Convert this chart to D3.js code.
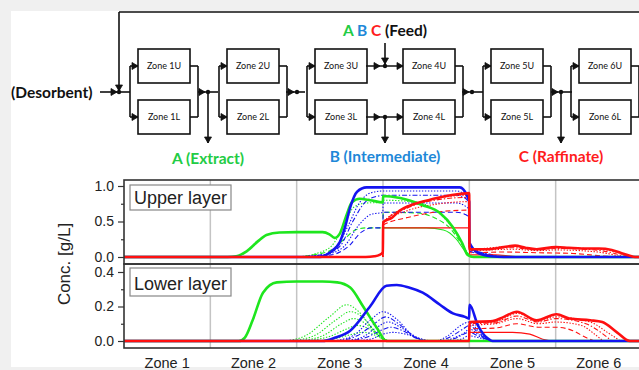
<!DOCTYPE html>
<html>
<head>
<meta charset="utf-8">
<script src="https://cdn.jsdelivr.net/npm/d3@7"></script>
<style>
  html, body { margin: 0; padding: 0; background: #f0f0f0; }
  svg { display: block; }
  .axis text { font-family: "Liberation Sans", Arial, sans-serif; font-size: 14px; fill: #222; }
  .axis line { stroke: #333; stroke-width: 1.2; }
  .axis path { display: none; }
</style>
</head>
<body>
<div class="chart"></div>
<script>
/* Global Constants
============================================= */
const SVG_WIDTH = 639;
const SVG_HEIGHT = 370;

const GREEN = "#1ee61e";
const BLUE = "#1414f0";
const RED = "#ff1010";

const ZONES = ["Zone 1", "Zone 2", "Zone 3", "Zone 4", "Zone 5", "Zone 6"];
const UNITS_U = ["Zone 1U", "Zone 2U", "Zone 3U", "Zone 4U", "Zone 5U", "Zone 6U"];
const UNITS_L = ["Zone 1L", "Zone 2L", "Zone 3L", "Zone 4L", "Zone 5L", "Zone 6L"];
const UPPER_TICKS = [0, 0.5, 1.0];
const UPPER_MINOR = [0.25, 0.75];
const LOWER_TICKS = [0, 0.2, 0.4];
const LOWER_MINOR = [0.1, 0.3];

/* Data: [position in zones, conc g/L]
============================================= */
// upper layer
const upGreenThick = [[0,0],[1.2,0],[1.3,0.01],[1.42,0.08],[1.55,0.22],[1.65,0.31],[1.8,0.345],[2.0,0.35],[2.3,0.35],[2.38,0.32],[2.44,0.27],[2.5,0.33],[2.58,0.6],[2.64,0.77],[2.73,0.82],[2.85,0.8],[2.998,0.77],[3.002,0.86],[3.2,0.83],[3.46,0.73],[3.66,0.62],[3.81,0.42],[3.92,0.19],[3.98,0.03],[4.05,0],[6,0]];
const upGreenThin = [[3.002,0.41],[3.5,0.41],[3.7,0.38],[3.85,0.25],[3.95,0.08],[4.0,0.01],[4.05,0]];
const upGreenDash = [[2.0,0],[2.2,0.03],[2.4,0.1],[2.55,0.25],[2.68,0.38],[2.8,0.41],[2.998,0.41],[3.002,0.63],[3.4,0.62],[3.6,0.55],[3.78,0.4],[3.9,0.2],[3.998,0.03],[4.05,0]];
const upGreenDot = [[2.0,0],[2.2,0.04],[2.4,0.15],[2.55,0.45],[2.66,0.7],[2.8,0.76],[2.998,0.77],[3.002,0.8],[3.4,0.77],[3.6,0.66],[3.78,0.45],[3.9,0.22],[3.998,0.03],[4.05,0]];

const upBlueThick = [[0,0],[2.27,0],[2.38,0.06],[2.5,0.21],[2.56,0.42],[2.62,0.7],[2.7,0.92],[2.81,0.98],[3.89,0.98],[3.97,0.87],[3.998,0.78],[4.002,0.2],[4.1,0.06],[4.25,0.01],[4.4,0],[6,0]];
const upBlueDot1 = [[2.0,0],[2.3,0.03],[2.45,0.12],[2.6,0.45],[2.72,0.75],[2.85,0.9],[3.0,0.93],[3.85,0.93],[3.95,0.88],[3.998,0.8],[4.002,0.12],[4.15,0.05],[4.3,0.01],[4.45,0]];
const upBlueDashDot = [[2.0,0],[2.3,0.03],[2.5,0.15],[2.65,0.5],[2.8,0.78],[2.95,0.86],[3.0,0.87],[3.85,0.87],[3.95,0.83],[3.998,0.75],[4.002,0.12],[4.2,0.05],[4.35,0.01],[4.5,0]];
const upBlueDot2 = [[2.0,0],[2.35,0.04],[2.55,0.15],[2.72,0.45],[2.86,0.6],[2.998,0.63],[3.002,0.76],[3.85,0.76],[3.95,0.72],[3.998,0.66],[4.002,0.1],[4.2,0.04],[4.4,0]];
const upBlueDash = [[2.0,0],[2.4,0.03],[2.6,0.15],[2.75,0.35],[2.87,0.41],[2.998,0.41],[3.002,0.63],[3.85,0.63],[3.95,0.6],[3.998,0.55],[4.002,0.08],[4.2,0.03],[4.4,0]];

const upRedThick = [[0,0],[2.8,0],[2.9,0.01],[2.96,0.03],[2.998,0.07],[3.002,0.49],[3.1,0.55],[3.19,0.65],[3.3,0.72],[3.46,0.78],[3.69,0.85],[3.9,0.89],[3.998,0.9],[4.002,0.11],[4.2,0.11],[4.4,0.14],[4.53,0.16],[4.65,0.13],[4.78,0.11],[5.0,0.14],[5.15,0.13],[5.3,0.12],[5.5,0.12],[5.65,0.1],[5.75,0.06],[5.85,0.02],[5.92,0],[6,0]];
const upRedThin = [[2.998,0],[3.002,0.41],[3.998,0.41],[4.002,0.03],[4.3,0.03],[4.5,0.01],[4.7,0]];
const upRedDash = [[2.998,0],[3.002,0.45],[3.3,0.56],[3.6,0.63],[3.998,0.66],[4.002,0.06],[4.4,0.07],[4.8,0.06],[5.2,0.05],[5.4,0.03],[5.6,0.01],[5.8,0]];
const upRedDot1 = [[2.998,0],[3.002,0.47],[3.3,0.66],[3.6,0.74],[3.998,0.78],[4.002,0.09],[4.5,0.11],[4.8,0.09],[5.0,0.1],[5.4,0.08],[5.6,0.05],[5.75,0.01],[5.85,0]];
const upRedDashDot = [[2.998,0],[3.002,0.48],[3.3,0.7],[3.6,0.8],[3.998,0.84],[4.002,0.1],[4.5,0.13],[4.8,0.1],[5.0,0.12],[5.45,0.1],[5.65,0.06],[5.8,0.01],[5.9,0]];
const upRedDot2 = [[2.998,0],[3.002,0.485],[3.3,0.71],[3.6,0.82],[3.998,0.87],[4.002,0.11],[4.5,0.15],[4.8,0.11],[5.0,0.13],[5.5,0.11],[5.7,0.07],[5.85,0.01],[5.92,0]];

// lower layer
const lowGreenThick = [[0,0],[1.33,0],[1.4,0.02],[1.49,0.12],[1.61,0.28],[1.77,0.34],[2.0,0.345],[2.3,0.345],[2.47,0.34],[2.62,0.31],[2.77,0.2],[2.93,0.075],[3.04,0],[6,0]];
const lowGreenDot1 = [[1.85,0],[2.1,0.03],[2.38,0.14],[2.58,0.21],[2.72,0.17],[2.88,0.07],[3.0,0.01],[3.05,0]];
const lowGreenDot2 = [[1.9,0],[2.2,0.03],[2.45,0.12],[2.62,0.17],[2.76,0.14],[2.9,0.06],[3.02,0.01],[3.06,0]];
const lowGreenDot3 = [[2.0,0],[2.3,0.03],[2.52,0.1],[2.66,0.13],[2.8,0.1],[2.93,0.04],[3.05,0]];
const lowGreenDot4 = [[2.1,0],[2.4,0.03],[2.58,0.07],[2.7,0.09],[2.84,0.07],[2.96,0.03],[3.06,0]];
const lowGreenDot5 = [[2.25,0],[2.5,0.02],[2.65,0.04],[2.76,0.05],[2.88,0.04],[3.0,0.01],[3.08,0]];

const lowBlueThick = [[0,0],[2.3,0],[2.45,0.02],[2.62,0.06],[2.85,0.2],[3.04,0.32],[3.16,0.325],[3.3,0.31],[3.46,0.28],[3.66,0.21],[3.81,0.16],[3.95,0.14],[3.998,0.13],[4.002,0.21],[4.1,0.09],[4.2,0.02],[4.27,0],[6,0]];
const lowBlueDot1 = [[2.4,0],[2.65,0.03],[2.85,0.12],[3.0,0.17],[3.15,0.13],[3.35,0.03],[3.5,0],[3.6,0],[3.75,0.03],[3.9,0.09],[3.998,0.11],[4.1,0.06],[4.2,0.01],[4.3,0]];
const lowBlueDot2 = [[2.45,0],[2.7,0.03],[2.9,0.1],[3.03,0.14],[3.18,0.1],[3.38,0.02],[3.52,0],[3.65,0],[3.8,0.03],[3.93,0.07],[3.998,0.09],[4.1,0.05],[4.2,0.01],[4.3,0]];
const lowBlueDot3 = [[2.5,0],[2.75,0.02],[2.93,0.08],[3.06,0.11],[3.2,0.08],[3.4,0.02],[3.55,0],[3.68,0],[3.83,0.02],[3.95,0.05],[3.998,0.07],[4.1,0.04],[4.2,0.01],[4.3,0]];
const lowBlueDot4 = [[2.55,0],[2.8,0.02],[2.97,0.06],[3.09,0.08],[3.23,0.06],[3.42,0.01],[3.58,0],[3.72,0],[3.86,0.02],[3.998,0.05],[4.1,0.03],[4.2,0.01],[4.3,0]];
const lowBlueDot5 = [[2.6,0],[2.85,0.01],[3.0,0.04],[3.12,0.05],[3.26,0.04],[3.45,0.01],[3.6,0],[3.75,0],[3.9,0.01],[3.998,0.03],[4.1,0.02],[4.25,0]];

const lowRedThick = [[0,0],[3.998,0],[4.002,0.11],[4.27,0.115],[4.4,0.14],[4.55,0.17],[4.78,0.12],[5.01,0.155],[5.16,0.13],[5.4,0.12],[5.54,0.11],[5.71,0.05],[5.86,0],[6,0]];
const lowRedThin = [[3.998,0],[4.002,0.05],[4.5,0.05],[4.7,0.04],[4.85,0.01],[4.95,0]];
const lowRedDash = [[3.998,0],[4.002,0.07],[4.3,0.075],[4.55,0.1],[4.8,0.08],[5.0,0.08],[5.2,0.06],[5.35,0.02],[5.45,0]];
const lowRedDot1 = [[3.998,0],[4.002,0.09],[4.3,0.1],[4.55,0.13],[4.8,0.1],[5.0,0.11],[5.3,0.09],[5.45,0.04],[5.55,0]];
const lowRedDashDot = [[3.998,0],[4.002,0.1],[4.3,0.105],[4.55,0.145],[4.8,0.11],[5.0,0.13],[5.35,0.1],[5.55,0.04],[5.65,0]];
const lowRedDot2 = [[3.998,0],[4.002,0.105],[4.3,0.11],[4.55,0.16],[4.8,0.115],[5.0,0.14],[5.4,0.11],[5.6,0.05],[5.75,0]];

/* Line styles
============================================= */
const DASH = { solid: null, dash: "5,3", dot: "1.4,1.6", dashdot: "5,2,1.4,2" };

const UPPER_SERIES = [
    [upGreenDash, GREEN, "dash", 1.1], [upGreenDot, GREEN, "dot", 1.1], [upGreenThin, GREEN, "solid", 1.1],
    [upBlueDot1, BLUE, "dot", 1.1], [upBlueDashDot, BLUE, "dashdot", 1.1], [upBlueDot2, BLUE, "dot", 1.1], [upBlueDash, BLUE, "dash", 1.1],
    [upRedThin, RED, "solid", 1.1], [upRedDash, RED, "dash", 1.1], [upRedDot1, RED, "dot", 1.1], [upRedDashDot, RED, "dashdot", 1.1], [upRedDot2, RED, "dot", 1.1],
    [upGreenThick, GREEN, "solid", 2.6], [upBlueThick, BLUE, "solid", 2.6], [upRedThick, RED, "solid", 2.6]
];

const LOWER_SERIES = [
    [lowGreenDot1, GREEN, "dot", 1.1], [lowGreenDot2, GREEN, "dot", 1.1], [lowGreenDot3, GREEN, "dot", 1.1], [lowGreenDot4, GREEN, "dot", 1.1], [lowGreenDot5, GREEN, "dot", 1.1],
    [lowBlueDot1, BLUE, "dot", 1.1], [lowBlueDot2, BLUE, "dashdot", 1.1], [lowBlueDot3, BLUE, "dot", 1.1], [lowBlueDot4, BLUE, "dashdot", 1.1], [lowBlueDot5, BLUE, "dot", 1.1],
    [lowRedThin, RED, "solid", 1.1], [lowRedDash, RED, "dash", 1.1], [lowRedDot1, RED, "dot", 1.1], [lowRedDashDot, RED, "dashdot", 1.1], [lowRedDot2, RED, "dot", 1.1],
    [lowGreenThick, GREEN, "solid", 2.6], [lowBlueThick, BLUE, "solid", 2.6], [lowRedThick, RED, "solid", 2.6]
];

/* Layout
============================================= */
var plotLeft = 124, plotRight = 642;
var upTop = 180, midY = 264, lowBottom = 348;

var svg = d3.select(".chart")
    .append("svg")
    .attr("width", SVG_WIDTH)
    .attr("height", SVG_HEIGHT);

svg.append("rect")
    .attr("x", 11).attr("y", 11)
    .attr("width", SVG_WIDTH - 11).attr("height", 356)
    .attr("fill", "#fff");

//****************** schematic *****************************//
var BOX_X = [138, 227, 315, 403, 491, 579];
var BOX_W = 52, BOX_H = 34;
var yU = 66, yL = 117, yJ = 92;
var schem = svg.append("g")
    .attr("stroke", "#111")
    .attr("stroke-width", 1.6)
    .attr("fill", "none");

function seg(x1, y1, x2, y2) {
    schem.append("line").attr("x1", x1).attr("y1", y1).attr("x2", x2).attr("y2", y2);
}
function arrowR(x, y) {
    schem.append("path").attr("d", `M${x - 6},${y - 3.5}L${x},${y}L${x - 6},${y + 3.5}Z`).attr("fill", "#111").attr("stroke-width", 0.8);
}
function arrowD(x, y) {
    schem.append("path").attr("d", `M${x - 3.5},${y - 6}L${x},${y}L${x + 3.5},${y - 6}Z`).attr("fill", "#111").attr("stroke-width", 0.8);
}
function dot(x, y) {
    schem.append("circle").attr("cx", x).attr("cy", y).attr("r", 2.2).attr("fill", "#111").attr("stroke", "none");
}

// recycle loop + desorbent inlet
seg(119, 12, 639, 12);
seg(119, 12, 119, yJ);
arrowD(119, yJ - 1);
seg(100, yJ, 117, yJ);
arrowR(117, yJ);
dot(119, yJ);
seg(119, yJ, 130, yJ);

BOX_X.forEach(function(bx, i) {
    var split = bx - 8, merge = bx + BOX_W + 8;
    [yU, yL].forEach(function(yy, k) {
        schem.append("rect")
            .attr("x", bx).attr("y", yy - BOX_H / 2)
            .attr("width", BOX_W).attr("height", BOX_H)
            .attr("fill", "#fff");
        svg.append("text")
            .attr("x", bx + BOX_W / 2).attr("y", yy + 3)
            .attr("text-anchor", "middle")
            .style("font-family", "Lato, 'Open Sans', sans-serif")
            .style("font-size", "9px")
            .attr("fill", "#111")
            .text(k === 0 ? UNITS_U[i] : UNITS_L[i]);
    });
    if (i !== 3) {
        seg(split, yU, split, yL);
        seg(split, yU, bx, yU); arrowR(bx, yU);
        seg(split, yL, bx, yL); arrowR(bx, yL);
    }
    if (i !== 2) {
        seg(bx + BOX_W, yU, merge, yU);
        seg(bx + BOX_W, yL, merge, yL);
        seg(merge, yU, merge, yL);
    }
});

// zone 3 -> zone 4 (feed / intermediate)
[yU, yL].forEach(function(yy) {
    seg(366, yy, 403, yy);
    arrowR(380, yy);
    arrowR(403, yy);
    dot(385, yy);
});
seg(385, 43, 385, yU - 1);
arrowD(385, yU - 2);
seg(385, yL, 385, 143);
arrowD(385, 143);

// pair junctions
[[198, 218, 208], [286, 305, 297], [462, 483, 472], [551, 572, 561]].forEach(function(j) {
    seg(j[0], yJ, j[1], yJ);
    arrowR(j[2] - 3, yJ);
    dot(j[2], yJ);
});
seg(208, yJ, 208, 143); arrowD(208, 143);
seg(561, yJ, 561, 143); arrowD(561, 143);

var labelFont = "Lato, 'Open Sans', sans-serif";
svg.append("text")
    .attr("x", 11).attr("y", 98)
    .style("font-family", labelFont).style("font-size", "15.5px").style("font-weight", "bold")
    .attr("fill", "#111")
    .text("(Desorbent)");

svg.append("text")
    .attr("x", 208).attr("y", 164).attr("text-anchor", "middle")
    .style("font-family", labelFont).style("font-size", "15.5px").style("font-weight", "bold")
    .attr("fill", "#22cc44")
    .text("A (Extract)");

svg.append("text")
    .attr("x", 385).attr("y", 162).attr("text-anchor", "middle")
    .style("font-family", labelFont).style("font-size", "15.5px").style("font-weight", "bold")
    .attr("fill", "#1e88d8")
    .text("B (Intermediate)");

svg.append("text")
    .attr("x", 561).attr("y", 162).attr("text-anchor", "middle")
    .style("font-family", labelFont).style("font-size", "15.5px").style("font-weight", "bold")
    .attr("fill", "#ff1c1c")
    .text("C (Raffinate)");

var feed = svg.append("text")
    .attr("x", 385).attr("y", 36).attr("text-anchor", "middle")
    .style("font-family", labelFont).style("font-size", "15.5px").style("font-weight", "bold");
feed.append("tspan").attr("fill", "#22cc44").text("A ");
feed.append("tspan").attr("fill", "#1e88d8").text("B ");
feed.append("tspan").attr("fill", "#ff1c1c").text("C ");
feed.append("tspan").attr("fill", "#111").text("(Feed)");

//****************** charts *****************************//
var xScale = d3.scaleLinear().domain([0, 6]).range([plotLeft, plotRight]);
var yUpper = d3.scaleLinear().domain([0, 1]).range([257, 186]);
var yLower = d3.scaleLinear().domain([0, 0.4]).range([341, 272]);
var zoneBand = d3.scaleBand().domain(ZONES).range([plotLeft, plotRight]);

var defs = svg.append("defs");
defs.append("clipPath").attr("id", "clipUp")
    .append("rect").attr("x", plotLeft).attr("y", upTop).attr("width", plotRight - plotLeft).attr("height", midY - upTop);
defs.append("clipPath").attr("id", "clipLow")
    .append("rect").attr("x", plotLeft).attr("y", midY).attr("width", plotRight - plotLeft).attr("height", lowBottom - midY);

// zone separators
svg.append("g").selectAll("line")
    .data(d3.range(1, 6))
    .enter()
    .append("line")
    .attr("x1", function(d) { return xScale(d); })
    .attr("x2", function(d) { return xScale(d); })
    .attr("y1", upTop)
    .attr("y2", lowBottom)
    .attr("stroke", "#c4c4c4")
    .attr("stroke-width", 1.5);

function drawPanel(series, yScale, clipId) {
    var line = d3.line()
        .x(function(d) { return xScale(d[0]); })
        .y(function(d) { return yScale(d[1]); })
        .curve(d3.curveMonotoneX);
    svg.append("g")
        .attr("clip-path", `url(#${clipId})`)
        .selectAll("path")
        .data(series)
        .enter()
        .append("path")
        .attr("d", function(s) { return line(s[0]); })
        .attr("fill", "none")
        .attr("stroke", function(s) { return s[1]; })
        .attr("stroke-dasharray", function(s) { return DASH[s[2]]; })
        .attr("stroke-width", function(s) { return s[3]; })
        .attr("stroke-linejoin", "round");
}
drawPanel(UPPER_SERIES, yUpper, "clipUp");
drawPanel(LOWER_SERIES, yLower, "clipLow");

// frames
[[upTop, midY], [midY, lowBottom]].forEach(function(p) {
    svg.append("rect")
        .attr("x", plotLeft).attr("y", p[0])
        .attr("width", plotRight - plotLeft).attr("height", p[1] - p[0])
        .attr("fill", "none")
        .attr("stroke", "#333")
        .attr("stroke-width", 1.6);
});

// y axes
svg.append("g").attr("class", "axis")
    .attr("transform", `translate(${plotLeft}, 0)`)
    .call(d3.axisLeft(yUpper).tickValues(UPPER_TICKS).tickFormat(d3.format(".1f")).tickSize(6).tickPadding(4));
svg.append("g").attr("class", "axis")
    .attr("transform", `translate(${plotLeft}, 0)`)
    .call(d3.axisLeft(yUpper).tickValues(UPPER_MINOR).tickFormat("").tickSize(3));
svg.append("g").attr("class", "axis")
    .attr("transform", `translate(${plotLeft}, 0)`)
    .call(d3.axisLeft(yLower).tickValues(LOWER_TICKS).tickFormat(d3.format(".1f")).tickSize(6).tickPadding(4));
svg.append("g").attr("class", "axis")
    .attr("transform", `translate(${plotLeft}, 0)`)
    .call(d3.axisLeft(yLower).tickValues(LOWER_MINOR).tickFormat("").tickSize(3));

// zone labels
svg.append("g").attr("class", "axis")
    .attr("transform", `translate(0, ${lowBottom})`)
    .call(d3.axisBottom(zoneBand).tickSize(0).tickPadding(10))
    .selectAll("text")
    .style("font-size", "14.5px");

svg.append("text")
    .attr("transform", `translate(70, ${(upTop + lowBottom) / 2}) rotate(-90)`)
    .attr("text-anchor", "middle")
    .style("font-family", "'Liberation Sans', Arial, sans-serif")
    .style("font-size", "17px")
    .attr("fill", "#222")
    .text("Conc. [g/L]");

// layer legends
[["Upper layer", 185, 210], ["Lower layer", 268, 296]].forEach(function(l) {
    svg.append("rect")
        .attr("x", 130).attr("y", l[1])
        .attr("width", 101).attr("height", l[2] - l[1])
        .attr("fill", "#fff")
        .attr("stroke", "#888")
        .attr("stroke-width", 1.2);
    svg.append("text")
        .attr("x", 134).attr("y", l[2] - 6)
        .style("font-family", "'Liberation Sans', Arial, sans-serif")
        .style("font-size", "18px")
        .attr("fill", "#222")
        .text(l[0]);
});
</script>
</body>
</html>
